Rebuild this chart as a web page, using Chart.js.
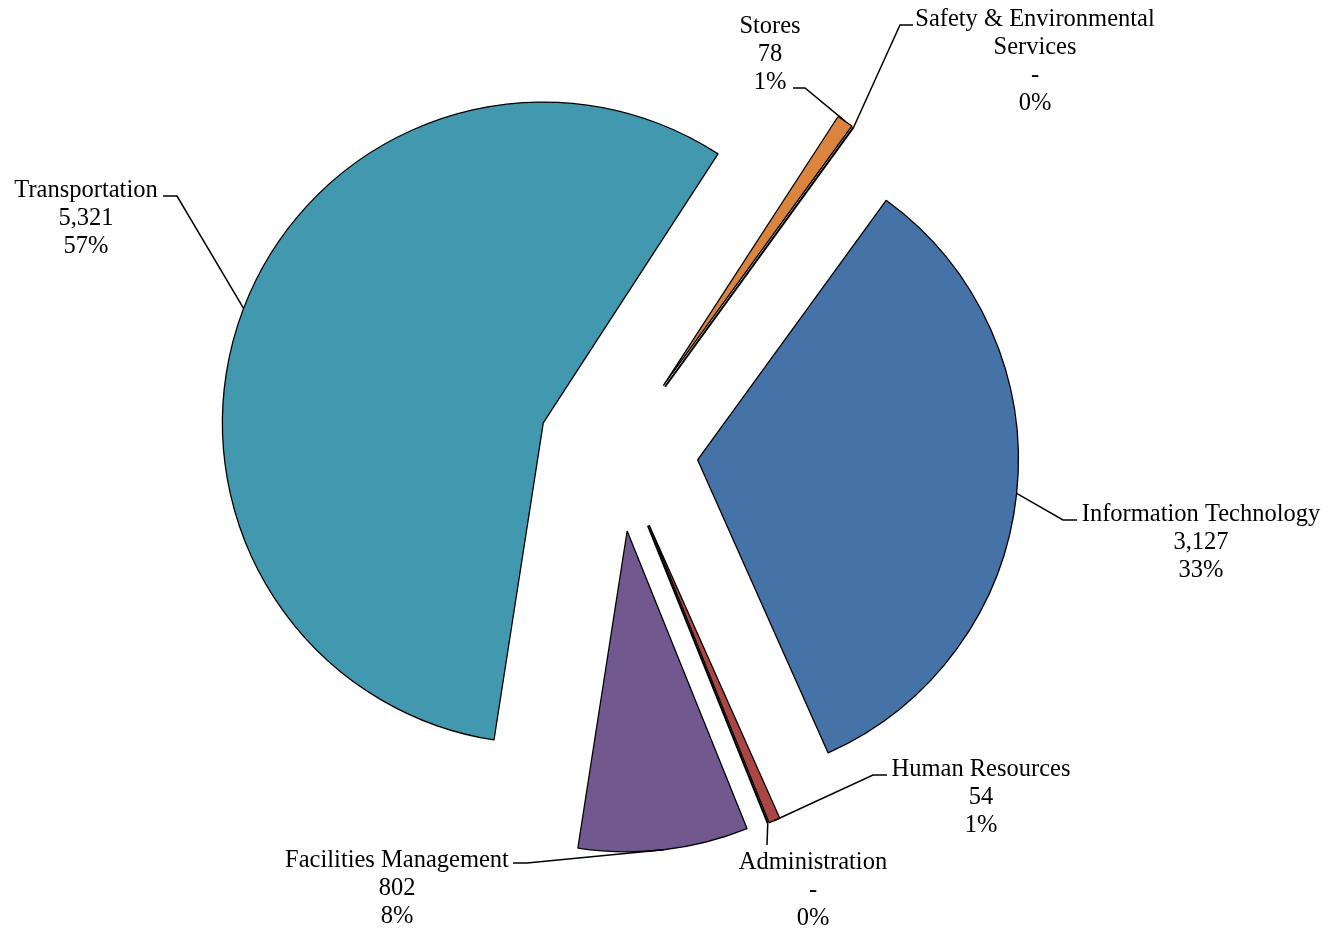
<!DOCTYPE html>
<html>

<head>
    <title>Expenses by Department</title>
    <script src="https://cdn.jsdelivr.net/npm/chart.js"></script>
    <style>
        body { margin: 0; background: #fff; }
        #wrap { width: 1329px; height: 930px; position: relative; }
    </style>
</head>

<body>
    <div id="wrap">
        <canvas id="dept-pie"></canvas>
    </div>

    <script>
        // Data (Excel order, clockwise from the first slice)
        const categories = ['Information Technology', 'Human Resources', 'Administration',
            'Facilities Management', 'Transportation', 'Stores', ['Safety & Environmental', 'Services']];
        const amounts = [3127, 54, 0, 802, 5321, 78, 0];
        const amountLabels = ['3,127', '54', '-', '802', '5,321', '78', '-'];
        const percentLabels = ['33%', '1%', '0%', '8%', '57%', '1%', '0%'];
        const sliceColors = ['#4572A7', '#AA4643', '#89A54E', '#71588F', '#4198AF', '#DB843D', '#93A9CF'];

        // Where each label sits and where its leader line bends
        const labelLayout = [
            { cx: 1201, y: 521, elbow: [1063, 520], end: [1077, 520] },
            { cx: 981, y: 776, elbow: [873, 775], end: [887, 775] },
            { cx: 813, y: 869, elbow: [767, 845], end: null },
            { cx: 397, y: 867, elbow: [527, 863], end: [513, 863] },
            { cx: 86, y: 197, elbow: [177, 196], end: [163, 196] },
            { cx: 770, y: 33, elbow: [805, 88], end: [793, 88] },
            { cx: 1035, y: 26, elbow: [900, 25], end: [913, 25] }
        ];

        const EXPLODE = 80;
        const FONT = '24.5px "Liberation Serif", "Times New Roman", serif';
        const LINE_H = 28;

        // Pull every slice out from the centre, like Excel's exploded pie
        const explodePlugin = {
            id: 'explode',
            beforeDatasetDraw(chart, args) {
                const ctx = chart.ctx;
                args.meta.data.forEach(arc => {
                    const mid = (arc.startAngle + arc.endAngle) / 2;
                    ctx.save();
                    ctx.translate(Math.cos(mid) * EXPLODE, Math.sin(mid) * EXPLODE);
                    if (arc.circumference === 0) {
                        // zero slice still shows its edge line
                        ctx.strokeStyle = '#000';
                        ctx.lineWidth = 2;
                        ctx.beginPath();
                        ctx.moveTo(arc.x, arc.y);
                        ctx.lineTo(arc.x + Math.cos(mid) * arc.outerRadius, arc.y + Math.sin(mid) * arc.outerRadius);
                        ctx.stroke();
                    } else {
                        arc.draw(ctx);
                    }
                    ctx.restore();
                });
                return false;
            },
            afterDatasetsDraw(chart) {
                const ctx = chart.ctx;
                const arcs = chart.getDatasetMeta(0).data;
                ctx.save();
                ctx.strokeStyle = '#000';
                ctx.lineWidth = 1.5;
                ctx.fillStyle = '#000';
                ctx.font = FONT;
                ctx.textAlign = 'center';
                ctx.textBaseline = 'alphabetic';
                arcs.forEach((arc, i) => {
                    const mid = (arc.startAngle + arc.endAngle) / 2;
                    const r = arc.outerRadius + EXPLODE;
                    const ax = arc.x + Math.cos(mid) * r;
                    const ay = arc.y + Math.sin(mid) * r;
                    const lay = labelLayout[i];

                    ctx.beginPath();
                    ctx.moveTo(ax, ay);
                    ctx.lineTo(lay.elbow[0], lay.elbow[1]);
                    if (lay.end) ctx.lineTo(lay.end[0], lay.end[1]);
                    ctx.stroke();

                    const name = Array.isArray(categories[i]) ? categories[i] : [categories[i]];
                    const lines = name.concat([amountLabels[i], percentLabels[i]]);
                    lines.forEach((t, k) => ctx.fillText(t, lay.cx, lay.y + k * LINE_H));
                });
                ctx.restore();
            }
        };

        new Chart(document.getElementById('dept-pie'), {
            type: 'pie',
            data: {
                labels: categories,
                datasets: [{
                    data: amounts,
                    backgroundColor: sliceColors,
                    borderColor: '#000',
                    borderWidth: 1.3
                }]
            },
            options: {
                responsive: true,
                maintainAspectRatio: false,
                animation: false,
                rotation: 36,
                layout: {
                    padding: { left: 100, right: 193, top: 130, bottom: 157 }
                },
                plugins: {
                    legend: { display: false },
                    tooltip: { enabled: false }
                }
            },
            plugins: [explodePlugin]
        });
    </script>
</body>

</html>
